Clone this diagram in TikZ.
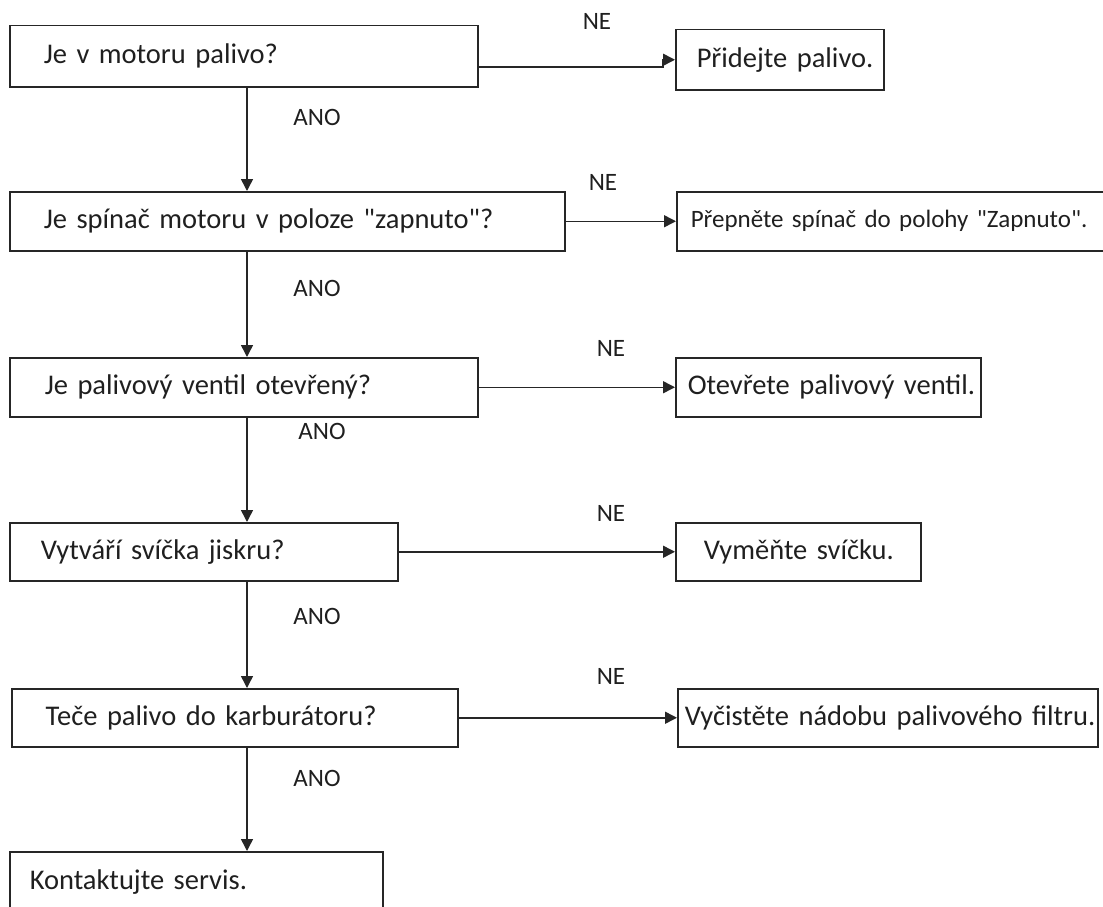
\documentclass[tikz,border=0pt]{standalone}
\usepackage{fontspec}
\setmainfont{Carlito}
\usetikzlibrary{arrows.meta}

\begin{document}
\begin{tikzpicture}[x=1pt,y=-1pt,
   qbox/.style={draw=black!85, line width=1.5pt, anchor=north west,
      inner sep=0pt, align=left, text=black!88,
      font=\fontsize{28.5}{34}\selectfont},
   lpad/.style={execute at begin node=\hspace*{#1pt}},
   lbl/.style={text=black!88, font=\fontsize{25}{30}\selectfont},
   flow/.style={draw=black!85, line width=1.5pt,
      -{Triangle[length=12pt,width=12pt]}}]
   \useasboundingbox (0,0) rectangle (1103,907);

   % questions, left column
   \node[qbox, lpad=34, text width=468pt, minimum height=61pt] (b1) at (9,25) {Je v motoru palivo?};
   \node[qbox, lpad=34, text width=555pt, minimum height=59pt] (b2) at (9,191) {Je spínač motoru v poloze \textquotedbl zapnuto\textquotedbl?};
   \node[qbox, lpad=35, text width=468pt, minimum height=59pt] (b3) at (9,357) {Je palivový ventil otevřený?};
   \node[qbox, lpad=31, text width=388pt, minimum height=58pt] (b4) at (9,522) {Vytváří svíčka jiskru?};
   \node[qbox, lpad=34, text width=446pt, minimum height=58pt] (b5) at (11,688) {Teče palivo do karburátoru?};
   \node[qbox, lpad=20, text width=373pt, minimum height=60pt] (b6) at (9,851) {Kontaktujte servis.};

   % answers, right column
   \node[qbox, lpad=21, text width=208pt, minimum height=60pt] (r1) at (675,29) {Přidejte palivo.};
   \node[qbox, lpad=14, text width=440pt, minimum height=59pt,
      font=\fontsize{25}{30}\selectfont] (r2) at (676,191) {Přepněte spínač do polohy \textquotedbl Zapnuto\textquotedbl.};
   \node[qbox, lpad=12, text width=305pt, minimum height=59pt] (r3) at (675,357) {Otevřete palivový ventil.};
   \node[qbox, lpad=28, text width=245pt, minimum height=58pt] (r4) at (675,522) {Vyměňte svíčku.};
   \node[qbox, lpad=7, text width=420pt, minimum height=58pt] (r5) at (677,688) {Vyčistěte nádobu palivového filtru.};

   % yes branch
   \coordinate (spine) at (247,0);
   \foreach \a/\b in {b1/b2,b2/b3,b3/b4,b4/b5,b5/b6}
      \draw[flow] (\a.south -| spine) -- (\b.north -| spine);
   \node[lbl] (ano1) at (317,117) {ANO};
   \node[lbl] (ano2) at (317,288) {ANO};
   \node[lbl] (ano3) at (322,431) {ANO};
   \node[lbl] (ano4) at (317,616) {ANO};
   \node[lbl] (ano5) at (317,778) {ANO};

   % no branch
   \draw[flow] (b1.east |- 0,67) -| ([xshift=-12pt]r1.west) -- (r1.west);
   \foreach \a/\b in {b2/r2,b3/r3,b4/r4,b5/r5}
      \draw[flow] (\a.east) -- (\b.west);
   \node[lbl] (ne1) at (597,21) {NE};
   \node[lbl] (ne2) at (603,182) {NE};
   \node[lbl] (ne3) at (611,348) {NE};
   \node[lbl] (ne4) at (611,513) {NE};
   \node[lbl] (ne5) at (611,676) {NE};
\end{tikzpicture}
\end{document}
